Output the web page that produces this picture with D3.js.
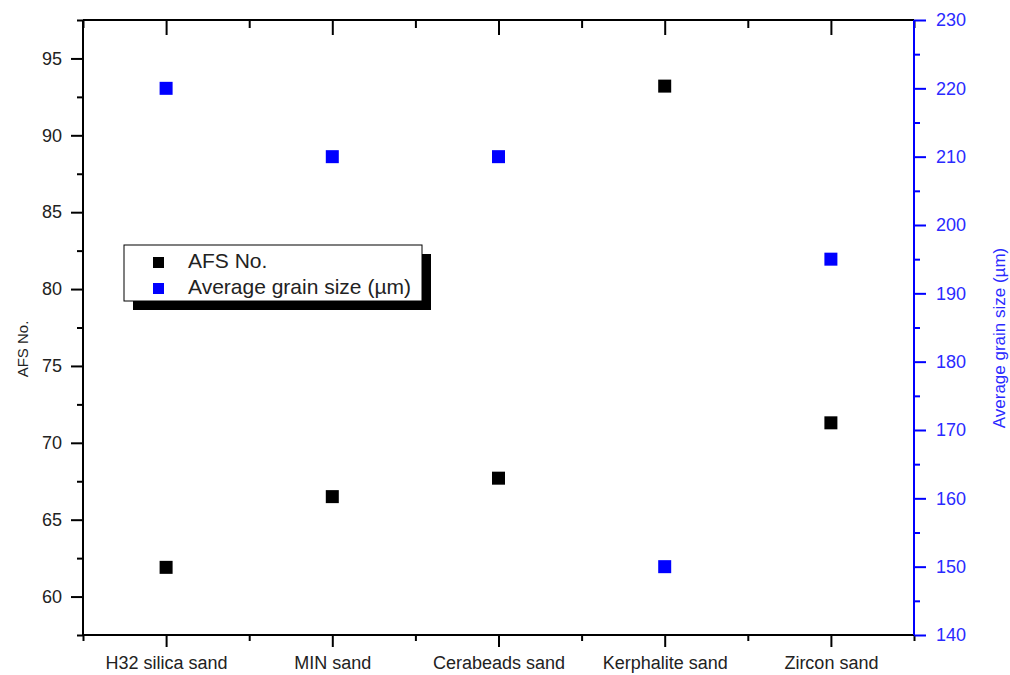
<!DOCTYPE html>
<html>
<head>
<meta charset="utf-8">
<script src="https://cdn.jsdelivr.net/npm/d3@7"></script>
<style>
  body { margin: 0; background: #fff; }
  svg { font-family: "Liberation Sans", Arial, sans-serif; }
</style>
</head>
<body>
<div id="chart"></div>
<script>
// chart data
const categories = ["H32 silica sand", "MIN sand", "Cerabeads sand", "Kerphalite sand", "Zircon sand"];
const afsNo = [61.9, 66.5, 67.7, 93.2, 71.3];
const grainSize = [220, 210, 210, 150, 195];
const leftTicks = [60, 65, 70, 75, 80, 85, 90, 95];
const rightTicks = [140, 150, 160, 170, 180, 190, 200, 210, 220, 230];
const legendLabels = ["AFS No.", "Average grain size (\u00b5m)"];

const width = 1010, height = 675;
const margin = { top: 20, right: 96, bottom: 40, left: 83 };
const innerW = width - margin.left - margin.right;
const innerH = height - margin.top - margin.bottom;
const blue = "#0000ff";
const majorLen = 12, minorLen = 6;

const svg = d3.select("#chart")
    .append("svg")
    .attr("width", width)
    .attr("height", height);

const g = svg.append("g")
    .attr("transform", `translate(${margin.left}, ${margin.top})`);

const x = d3.scaleLinear()
    .domain([0.5, categories.length + 0.5])
    .range([0, innerW]);

const yLeft = d3.scaleLinear()
    .domain([57.5, 97.5])
    .range([innerH, 0]);

const yRight = d3.scaleLinear()
    .domain([140, 230])
    .range([innerH, 0]);

const catIdx = categories.map((d, i) => i + 1);
const halfIdx = d3.range(0.5, categories.length + 1, 1);

function styleAxis(sel, color) {
    sel.select(".domain").remove();
    sel.selectAll("line").attr("stroke", color).attr("stroke-width", 2);
}

// minor ticks first so major ones sit on top
const minorLeft = d3.range(57.5, 98, 5);
const minorRight = d3.range(145, 230, 10);

// bottom axis
const bottomMinor = g.append("g")
    .attr("transform", `translate(0, ${innerH})`)
    .call(d3.axisBottom(x).tickValues(halfIdx).tickSize(minorLen).tickFormat(""));
styleAxis(bottomMinor, "#000");

const bottomAxis = g.append("g")
    .attr("transform", `translate(0, ${innerH})`)
    .call(d3.axisBottom(x).tickValues(catIdx).tickSize(majorLen).tickPadding(9)
        .tickFormat(d => categories[d - 1]));
styleAxis(bottomAxis, "#000");
bottomAxis.selectAll("text")
    .attr("fill", "#222")
    .style("font-size", "18px");

// top axis (inward ticks)
const topMinor = g.append("g")
    .call(d3.axisTop(x).tickValues(halfIdx).tickSize(-8).tickFormat(""));
styleAxis(topMinor, "#000");
const topAxis = g.append("g")
    .call(d3.axisTop(x).tickValues(catIdx).tickSize(-15).tickFormat(""));
styleAxis(topAxis, "#000");

// left axis
const leftMinor = g.append("g")
    .call(d3.axisLeft(yLeft).tickValues(minorLeft).tickSize(minorLen).tickFormat(""));
styleAxis(leftMinor, "#000");
const leftAxis = g.append("g")
    .call(d3.axisLeft(yLeft).tickValues(leftTicks).tickSize(majorLen).tickPadding(9));
styleAxis(leftAxis, "#000");
leftAxis.selectAll("text")
    .attr("fill", "#222")
    .style("font-size", "18px");

// right axis
const rightMinor = g.append("g")
    .attr("transform", `translate(${innerW}, 0)`)
    .call(d3.axisRight(yRight).tickValues(minorRight).tickSize(minorLen).tickFormat(""));
styleAxis(rightMinor, blue);
const rightAxis = g.append("g")
    .attr("transform", `translate(${innerW}, 0)`)
    .call(d3.axisRight(yRight).tickValues(rightTicks).tickSize(majorLen).tickPadding(10));
styleAxis(rightAxis, blue);
rightAxis.selectAll("text")
    .attr("fill", "#2a2aff")
    .style("font-size", "18px");

// frame
g.append("line").attr("x1", 0).attr("x2", innerW).attr("y1", 0).attr("y2", 0)
    .attr("stroke", "#000").attr("stroke-width", 2);
g.append("line").attr("x1", 0).attr("x2", innerW).attr("y1", innerH).attr("y2", innerH)
    .attr("stroke", "#000").attr("stroke-width", 2);
g.append("line").attr("x1", 0).attr("x2", 0).attr("y1", 0).attr("y2", innerH)
    .attr("stroke", "#000").attr("stroke-width", 2);
g.append("line").attr("x1", innerW).attr("x2", innerW).attr("y1", 0).attr("y2", innerH)
    .attr("stroke", blue).attr("stroke-width", 2);

// axis titles
svg.append("text")
    .attr("transform", "translate(28, 349) rotate(-90)")
    .attr("text-anchor", "middle")
    .attr("fill", "#222")
    .style("font-size", "15px")
    .text("AFS No.");

svg.append("text")
    .attr("transform", "translate(1005, 338) rotate(-90)")
    .attr("text-anchor", "middle")
    .attr("fill", "#2a2aff")
    .style("font-size", "17px")
    .text("Average grain size (\u00b5m)");

// markers
const size = 13;
g.selectAll(".afs")
    .data(afsNo)
    .enter()
    .append("rect")
    .attr("class", "afs")
    .attr("x", (d, i) => x(i + 1) - size / 2)
    .attr("y", d => yLeft(d) - size / 2)
    .attr("width", size)
    .attr("height", size)
    .attr("fill", "#000");

g.selectAll(".grain")
    .data(grainSize)
    .enter()
    .append("rect")
    .attr("class", "grain")
    .attr("x", (d, i) => x(i + 1) - size / 2)
    .attr("y", d => yRight(d) - size / 2)
    .attr("width", size)
    .attr("height", size)
    .attr("fill", blue);

// legend
const lg = svg.append("g").attr("transform", "translate(124, 245)");
const lw = 298, lh = 56;
lg.append("rect").attr("x", 9).attr("y", 9).attr("width", lw).attr("height", lh).attr("fill", "#000");
lg.append("rect").attr("x", 0).attr("y", 0).attr("width", lw).attr("height", lh)
    .attr("fill", "#fff").attr("stroke", "#000").attr("stroke-width", 1);

const legendColors = ["#000", blue];
legendLabels.forEach((label, i) => {
    const cy = 17 + i * 26;
    lg.append("rect")
        .attr("x", 29).attr("y", cy - 5)
        .attr("width", 11).attr("height", 11)
        .attr("fill", legendColors[i]);
    lg.append("text")
        .attr("x", 64).attr("y", cy + 6)
        .attr("fill", "#222")
        .style("font-size", "21px")
        .text(label);
});
</script>
</body>
</html>
